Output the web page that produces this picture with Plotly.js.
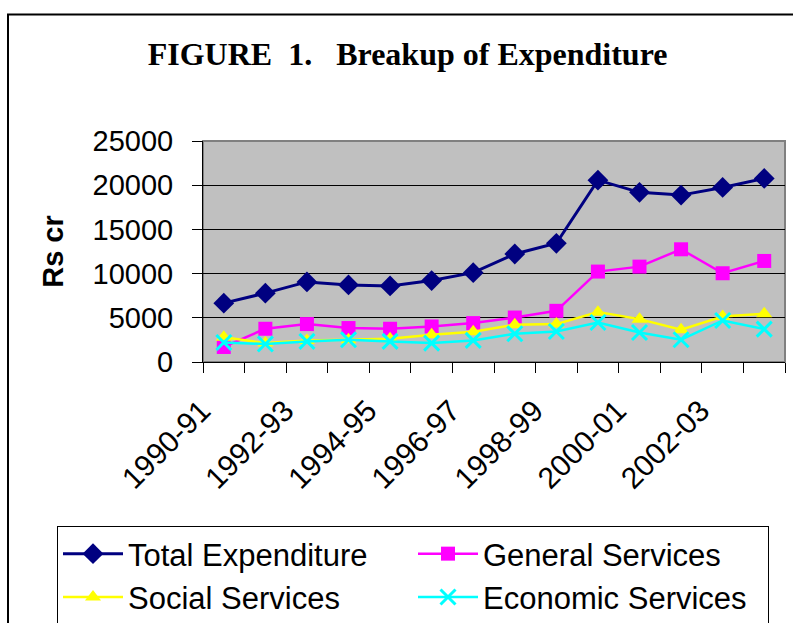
<!DOCTYPE html>
<html>
<head>
<meta charset="utf-8">
<script src="https://cdn.plot.ly/plotly-3.0.1.min.js"></script>
<style>
  html, body { margin: 0; padding: 0; background: #fff; }
  #grafico { width: 793px; height: 623px; }
</style>
</head>
<body>
<div id="grafico"></div>
<script>
// Datos (Rs cr)
const anios = [
  "1990-91", "1991-92", "1992-93", "1993-94", "1994-95", "1995-96", "1996-97",
  "1997-98", "1998-99", "1999-00", "2000-01", "2001-02", "2002-03", "2003-04",
]
const totalGasto = [6660, 7790, 9060, 8720, 8610, 9210, 10110, 12220, 13430, 20570, 19190, 18880, 19750, 20770]
const serviciosGenerales = [1700, 3760, 4290, 3840, 3760, 4020, 4400, 5030, 5790, 10230, 10790, 12750, 10040, 11430]
const serviciosSociales = [2800, 2140, 2440, 2520, 2630, 3080, 3420, 4210, 4290, 5640, 4850, 3650, 5150, 5450]
const serviciosEconomicos = [2210, 2030, 2330, 2520, 2330, 2140, 2440, 3190, 3450, 4470, 3340, 2520, 4700, 3720]

const posX = anios.map((a, i) => i)
// solo una etiqueta de cada dos, como en el original
const etiquetasX = anios.filter((a, i) => i % 2 === 0)
const posEtiquetas = posX.filter((i) => i % 2 === 0)
const limites = [-0.5].concat(posX.map((i) => i + 0.5))

const fuente = "Liberation Sans, Arial, sans-serif"

const trazas = [
  {
    name: "Total Expenditure", x: posX, y: totalGasto, type: "scatter", mode: "lines+markers",
    line: { color: "#000080", width: 3 },
    marker: { symbol: "diamond", size: 16, color: "#000080" },
  },
  {
    name: "General Services", x: posX, y: serviciosGenerales, type: "scatter", mode: "lines+markers",
    line: { color: "#FF00FF", width: 2.5 },
    marker: { symbol: "square", size: 14, color: "#FF00FF" },
  },
  {
    name: "Social Services", x: posX, y: serviciosSociales, type: "scatter", mode: "lines+markers",
    line: { color: "#FFFF00", width: 2.5 },
    marker: { symbol: "triangle-up", size: 14, color: "#FFFF00" },
  },
  {
    name: "Economic Services", x: posX, y: serviciosEconomicos, type: "scatter", mode: "lines+markers",
    line: { color: "#00FFFF", width: 2.5 },
    marker: { symbol: "x-thin", size: 15, color: "#00FFFF", line: { color: "#00FFFF", width: 3 } },
  },
]

const layout = {
  width: 793,
  height: 623,
  paper_bgcolor: "#FFFFFF",
  plot_bgcolor: "#C0C0C0",
  margin: { l: 203, r: 8, t: 141, b: 261, autoexpand: false },
  font: { family: fuente, color: "#000" },
  showlegend: true,
  title: {
    text: "<b>FIGURE\u00a0 1.\u00a0\u00a0 Breakup of Expenditure</b>",
    font: { family: "Liberation Serif, Times New Roman, serif", size: 32, color: "#000" },
    x: 0.514, xanchor: "center",
    y: 1 - 54 / 623, yanchor: "middle",
  },
  xaxis: {
    range: [-0.5, 13.5],
    tickmode: "array",
    tickvals: posEtiquetas,
    ticktext: etiquetasX,
    tickangle: -45,
    ticks: "",
    tickfont: { size: 30, family: fuente, color: "#000" },
    ticklabelstandoff: 18,
    ticklabelshift: -22,
    showgrid: false,
    zeroline: false,
    showline: true,
    linecolor: "#000",
    linewidth: 1,
    minor: { tickmode: "array", tickvals: limites, ticks: "outside", ticklen: 10, tickcolor: "#000", tickwidth: 1, showgrid: false },
    fixedrange: true,
  },
  yaxis: {
    range: [0, 25000],
    dtick: 5000,
    tick0: 0,
    tickformat: "d",
    ticks: "outside",
    ticklen: 10,
    tickcolor: "#000",
    tickfont: { size: 29, family: fuente, color: "#000" },
    ticklabelstandoff: 13,
    showgrid: true,
    gridcolor: "#000",
    gridwidth: 1,
    zeroline: false,
    showline: true,
    linecolor: "#000",
    linewidth: 1,
    title: { text: "<b>Rs cr</b>", font: { size: 29, family: fuente, color: "#000" }, standoff: 20 },
    fixedrange: true,
  },
  legend: {
    orientation: "h",
    x: (57 - 203) / 582,
    xanchor: "left",
    y: (362 - 526) / 221,
    yanchor: "top",
    entrywidth: 280,
    entrywidthmode: "pixels",
    itemwidth: 60,
    bgcolor: "#FFFFFF",
    bordercolor: "#000",
    borderwidth: 1,
    font: { size: 31, family: fuente, color: "#000" },
    traceorder: "normal",
  },
  shapes: [
    // borde gris del area de trazado
    { type: "rect", xref: "paper", yref: "paper", x0: 0, x1: 1, y0: 0, y1: 1, line: { color: "#808080", width: 2 }, layer: "below" },
    // marco exterior del grafico
    { type: "rect", xref: "paper", yref: "paper", x0: (8 - 203) / 582, x1: (820 - 203) / 582, y0: (362 - 650) / 221, y1: (362 - 14.5) / 221, line: { color: "#000", width: 2 } },
  ],
}

Plotly.newPlot("grafico", trazas, layout, { staticPlot: true, displayModeBar: false })
</script>
</body>
</html>
